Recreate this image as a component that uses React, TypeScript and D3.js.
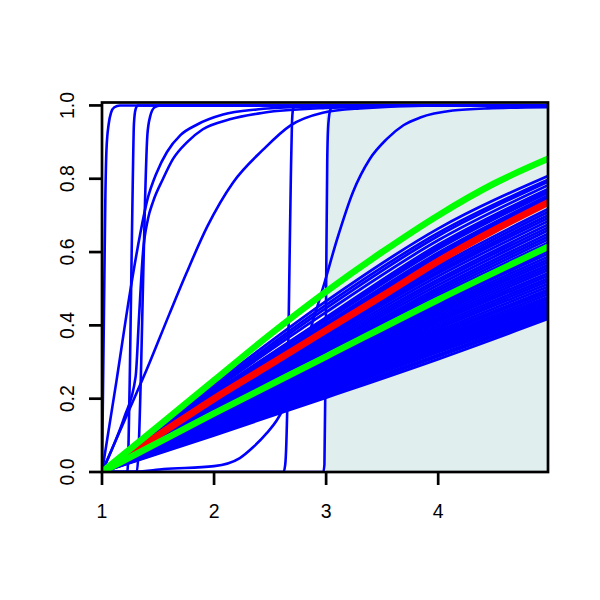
import React from "react";
import * as d3 from "d3";

// ---- axis / tick data ----
const xTicks = [1, 2, 3, 4];
const yTicks = [0, 0.2, 0.4, 0.6, 0.8, 1.0];
const yTickLabels = ["0.0", "0.2", "0.4", "0.6", "0.8", "1.0"];
const xDomain = [1, 4.98];
const yDomain = [0, 1.008];
const shadeStart = 3;

// ---- fan of near-linear curves: values at x = 1,2,3,4,5 ----
const fanX = [1, 2, 3, 4, 5];
const fanAt5 = [
  0.81, 0.8, 0.795, 0.785, 0.775, 0.77, 0.765, 0.757, 0.752, 0.748, 0.74, 0.735,
  0.72, 0.712, 0.703, 0.695, 0.687, 0.678, 0.67, 0.662, 0.653, 0.645, 0.637, 0.628,
  0.605, 0.598, 0.59, 0.582, 0.575, 0.567, 0.56, 0.553, 0.545, 0.538, 0.53, 0.523,
  0.515, 0.508, 0.5, 0.494, 0.487, 0.48, 0.474, 0.468, 0.462, 0.456, 0.45, 0.445,
  0.44, 0.435, 0.43, 0.425, 0.42,
];
const fanAt4 = [
  0.664, 0.652, 0.644, 0.632, 0.62, 0.614, 0.608, 0.598, 0.593, 0.589, 0.581, 0.577,
  0.562, 0.555, 0.548, 0.542, 0.534, 0.525, 0.518, 0.51, 0.502, 0.495, 0.488, 0.481,
  0.462, 0.457, 0.451, 0.445, 0.439, 0.433, 0.427, 0.421, 0.415, 0.409, 0.403, 0.397,
  0.391, 0.385, 0.379, 0.374, 0.368, 0.363, 0.358, 0.353, 0.349, 0.344, 0.339, 0.335,
  0.331, 0.327, 0.32, 0.315, 0.308,
];
const fanAt3 = [
  0.466, 0.456, 0.447, 0.436, 0.422, 0.418, 0.413, 0.405, 0.4, 0.396, 0.391, 0.388,
  0.378, 0.374, 0.369, 0.365, 0.358, 0.352, 0.346, 0.341, 0.335, 0.33, 0.325, 0.32,
  0.308, 0.305, 0.3, 0.296, 0.292, 0.288, 0.284, 0.28, 0.276, 0.272, 0.268, 0.264,
  0.26, 0.256, 0.252, 0.249, 0.245, 0.242, 0.238, 0.235, 0.232, 0.229, 0.226, 0.224,
  0.221, 0.216, 0.21, 0.207, 0.203,
];
const fanAt2 = [
  0.239, 0.232, 0.227, 0.224, 0.217, 0.216, 0.213, 0.209, 0.207, 0.205, 0.202, 0.2,
  0.194, 0.192, 0.19, 0.188, 0.184, 0.181, 0.178, 0.175, 0.172, 0.17, 0.167, 0.164,
  0.157, 0.155, 0.153, 0.151, 0.149, 0.147, 0.145, 0.143, 0.141, 0.139, 0.136, 0.134,
  0.132, 0.13, 0.128, 0.126, 0.124, 0.122, 0.12, 0.119, 0.117, 0.115, 0.114, 0.112,
  0.111, 0.108, 0.105, 0.103, 0.1,
];

// ---- steep (step / sigmoid) curves ----
const stepNear1X = [1, 1.01, 1.02, 1.03, 1.04, 1.06, 1.08, 1.11, 1.16, 4.98];
const stepNear1Y = [0, 0.25, 0.5, 0.75, 0.88, 0.95, 0.98, 0.995, 1, 1];

const fastRiseX = [1, 1.13, 1.25, 1.34, 1.4, 1.49, 1.58, 1.7, 1.85, 2.08, 2.38, 2.68, 3.5, 4.98];
const fastRiseY = [0, 0.25, 0.49, 0.648, 0.737, 0.818, 0.873, 0.919, 0.948, 0.975, 0.989, 0.995, 1, 1];

const lateRiseX = [1, 1.1, 1.2, 1.3, 1.33, 1.366, 1.41, 1.455, 1.545, 1.634, 1.76, 1.9, 2.14, 2.44, 3, 4, 4.98];
const lateRiseY = [0, 0.07, 0.15, 0.26, 0.42, 0.6, 0.69, 0.737, 0.8, 0.854, 0.9, 0.935, 0.962, 0.98, 0.993, 1, 1];

const step127X = [1, 1.225, 1.235, 1.25, 1.26, 1.275, 1.285, 1.3, 1.32, 4.98];
const step127Y = [0, 0, 0.05, 0.3, 0.5, 0.8, 0.95, 0.99, 1, 1];

const step137X = [1, 1.31, 1.325, 1.35, 1.365, 1.385, 1.405, 1.43, 1.47, 1.52, 4.98];
const step137Y = [0, 0, 0.05, 0.3, 0.5, 0.75, 0.92, 0.97, 0.995, 1, 1];

const gammaRiseX = [1, 1.2, 1.4, 1.6, 1.75, 1.94, 2.17, 2.44, 2.68, 2.97, 3.3, 4, 4.98];
const gammaRiseY = [0, 0.14, 0.28, 0.43, 0.54, 0.67, 0.79, 0.88, 0.945, 0.98, 0.992, 1, 1];

const step267X = [1, 2.62, 2.635, 2.655, 2.67, 2.685, 2.695, 2.705, 2.72, 4.98];
const step267Y = [0, 0, 0.02, 0.2, 0.5, 0.8, 0.95, 0.99, 1, 1];

const step300X = [1, 2.975, 2.985, 2.995, 3.0, 3.01, 3.02, 3.04, 3.08, 4.98];
const step300Y = [0, 0, 0.02, 0.3, 0.5, 0.85, 0.95, 0.99, 1, 1];

const logisticX = [1, 1.3, 1.55, 2, 2.23, 2.35, 2.47, 2.56, 2.61, 2.7, 2.8, 2.9, 2.97, 3.1, 3.24, 3.39, 3.54, 3.69, 3.84, 4.13, 4.44, 4.98];
const logisticY = [0, 0.001, 0.008, 0.016, 0.038, 0.068, 0.106, 0.141, 0.168, 0.24, 0.33, 0.43, 0.5, 0.637, 0.764, 0.854, 0.908, 0.946, 0.967, 0.986, 0.992, 0.995];

// ---- highlighted curves ----
const redX = [1, 1.5, 2, 2.5, 3, 3.5, 4, 4.5, 5];
const redY = [0, 0.1, 0.2, 0.293, 0.387, 0.48, 0.575, 0.66, 0.738];

const greenUpperX = [1, 1.5, 2, 2.5, 3, 3.5, 4, 4.5, 5];
const greenUpperY = [0, 0.125, 0.25, 0.375, 0.492, 0.6, 0.7, 0.787, 0.857];

const greenLowerX = [1, 2, 3, 4, 5];
const greenLowerY = [0, 0.16, 0.315, 0.47, 0.617];

const steepXs = [stepNear1X, fastRiseX, lateRiseX, step127X, step137X, gammaRiseX, step267X, step300X, logisticX];
const steepYs = [stepNear1Y, fastRiseY, lateRiseY, step127Y, step137Y, gammaRiseY, step267Y, step300Y, logisticY];

const W = 600;
const H = 600;
const left = 102;
const right = 548;
const top = 102.5;
const bottom = 472;

export default function App() {
  const x = d3.scaleLinear().domain(xDomain).range([left, right]);
  const y = d3.scaleLinear().domain(yDomain).range([bottom, top]);
  const line = d3
    .line<[number, number]>()
    .x((d) => x(d[0]))
    .y((d) => y(d[1]))
    .curve(d3.curveMonotoneX);

  const zip = (xs: number[], ys: number[]) => xs.map((v, i) => [v, ys[i]] as [number, number]);

  const fanPaths = fanAt5.map((v5, i) =>
    line(zip(fanX, [0, fanAt2[i], fanAt3[i], fanAt4[i], v5]))
  );
  const steepPaths = steepXs.map((xs, i) => line(zip(xs, steepYs[i])));

  const font = "'Liberation Sans', Arial, Helvetica, sans-serif";
  const blue = "#0000ff";

  return (
    <svg
      width={W}
      height={H}
      style={{ position: "absolute", left: 0, top: 0, display: "block", background: "#ffffff" }}
    >
      <defs>
        <clipPath id="plotClip">
          <rect x={left} y={top} width={right - left} height={bottom - top} />
        </clipPath>
      </defs>
      <rect
        x={x(shadeStart)}
        y={top}
        width={right - x(shadeStart)}
        height={bottom - top}
        fill="#e0eeee"
      />
      <g clipPath="url(#plotClip)" fill="none" strokeLinejoin="round" strokeLinecap="round">
        {fanPaths.map((d, i) => (
          <path key={"f" + i} d={d || ""} stroke={blue} strokeWidth={2.8} />
        ))}
        {steepPaths.map((d, i) => (
          <path key={"s" + i} d={d || ""} stroke={blue} strokeWidth={2.6} />
        ))}
        <path d={line(zip(redX, redY)) || ""} stroke="#ff0000" strokeWidth={7} />
        <path d={line(zip(greenUpperX, greenUpperY)) || ""} stroke="#00ff00" strokeWidth={6.5} />
        <path d={line(zip(greenLowerX, greenLowerY)) || ""} stroke="#00ff00" strokeWidth={6.5} />
      </g>
      <rect
        x={left}
        y={top}
        width={right - left}
        height={bottom - top}
        fill="none"
        stroke="#000"
        strokeWidth={2.7}
      />
      {xTicks.map((t) => (
        <g key={"xt" + t}>
          <line x1={x(t)} x2={x(t)} y1={bottom} y2={bottom + 13} stroke="#000" strokeWidth={2.7} />
          <text x={x(t)} y={518} textAnchor="middle" fontSize={19.5} fontFamily={font} fill="#000">
            {String(t)}
          </text>
        </g>
      ))}
      {yTicks.map((t, i) => (
        <g key={"yt" + t}>
          <line x1={left - 13} x2={left} y1={y(t)} y2={y(t)} stroke="#000" strokeWidth={2.7} />
          <text
            transform={`translate(74,${y(t)}) rotate(-90)`}
            textAnchor="middle"
            fontSize={19.5}
            fontFamily={font}
            fill="#000"
          >
            {yTickLabels[i]}
          </text>
        </g>
      ))}
    </svg>
  );
}
